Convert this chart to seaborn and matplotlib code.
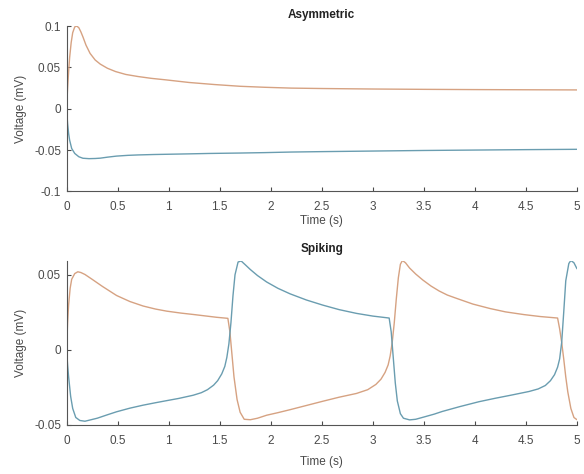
import numpy as np
import pandas as pd
import matplotlib
matplotlib.use("Agg")
import matplotlib.pyplot as plt
import seaborn as sns
from matplotlib.ticker import FuncFormatter

# ---- Data ----
asym_t_blue = [0, 0.01, 0.02, 0.03, 0.05, 0.08, 0.12, 0.16, 0.22, 0.28, 0.33, 0.4, 0.49, 0.6, 0.7, 0.85, 0.98, 1.2, 1.4, 1.7, 1.94, 2.2, 2.5, 3.0, 3.5, 4.0, 4.5, 5.0]
asym_v_blue = [0, -0.018, -0.03, -0.038, -0.048, -0.054, -0.058, -0.0598, -0.0603, -0.0601, -0.0597, -0.0585, -0.0572, -0.0563, -0.0558, -0.0553, -0.055, -0.0545, -0.054, -0.0535, -0.053, -0.0523, -0.0518, -0.0511, -0.0504, -0.0499, -0.0494, -0.049]
asym_t_orange = [0, 0.01, 0.02, 0.03, 0.045, 0.06, 0.08, 0.1, 0.12, 0.14, 0.16, 0.19, 0.23, 0.28, 0.33, 0.4, 0.48, 0.58, 0.7, 0.83, 0.97, 1.2, 1.45, 1.7, 1.94, 2.2, 2.5, 3.0, 3.5, 4.0, 4.5, 5.0]
asym_v_orange = [0, 0.025, 0.045, 0.062, 0.08, 0.092, 0.099, 0.1, 0.098, 0.093, 0.087, 0.077, 0.067, 0.059, 0.054, 0.049, 0.045, 0.0415, 0.039, 0.0368, 0.035, 0.0318, 0.0293, 0.0272, 0.026, 0.025, 0.0245, 0.0239, 0.0235, 0.0232, 0.023, 0.0228]

spk_t_blue = [0, 0.01, 0.02, 0.04, 0.06, 0.09, 0.13, 0.18, 0.24, 0.3, 0.4, 0.49, 0.62, 0.75, 0.87, 0.98, 1.1, 1.24, 1.32, 1.38, 1.44, 1.48, 1.52, 1.55, 1.57, 1.59, 1.61, 1.63, 1.65, 1.68, 1.71, 1.75, 1.8, 1.87, 1.96, 2.07, 2.19, 2.35, 2.51, 2.67, 2.84, 3.0, 3.16,
              3.18, 3.2, 3.22, 3.24, 3.27, 3.3, 3.36, 3.42, 3.5, 3.6, 3.68, 3.85, 4.04, 4.2, 4.35, 4.53, 4.62, 4.69, 4.74, 4.78, 4.81, 4.83, 4.85, 4.87, 4.89, 4.92, 4.94, 4.97, 5.0]
spk_v_blue = [0, -0.01, -0.018, -0.031, -0.039, -0.045, -0.047, -0.0475, -0.0465, -0.0455, -0.0432, -0.0412, -0.0388, -0.0368, -0.0352, -0.0338, -0.0323, -0.0302, -0.0285, -0.0265, -0.0235, -0.0205, -0.016, -0.011, -0.005, 0.004, 0.018, 0.036, 0.05, 0.0585, 0.0592, 0.0567, 0.0535, 0.0495, 0.0452, 0.041, 0.0373, 0.0332, 0.0298, 0.0268, 0.0243, 0.0225, 0.0212,
              0.012, -0.005, -0.022, -0.034, -0.0425, -0.0455, -0.0466, -0.0462, -0.0447, -0.0428, -0.041, -0.0378, -0.0345, -0.0322, -0.0302, -0.0277, -0.026, -0.0237, -0.0205, -0.0165, -0.0115, -0.006, 0.005, 0.025, 0.046, 0.0575, 0.0595, 0.058, 0.054]
spk_t_orange = [0, 0.01, 0.02, 0.035, 0.05, 0.08, 0.11, 0.14, 0.18, 0.25, 0.35, 0.49, 0.62, 0.75, 0.87, 0.98, 1.12, 1.25, 1.36, 1.47, 1.58,
                1.6, 1.62, 1.64, 1.67, 1.7, 1.74, 1.8, 1.87, 1.96, 2.07, 2.19, 2.35, 2.51, 2.67, 2.84, 2.95, 3.03, 3.08, 3.12, 3.15, 3.17, 3.19, 3.21, 3.23, 3.25, 3.27, 3.29, 3.32, 3.36, 3.42, 3.49, 3.57, 3.65, 3.73, 3.82, 3.98, 4.15, 4.3, 4.48, 4.64, 4.81,
                4.83, 4.85, 4.87, 4.89, 4.91, 4.94, 4.97, 5.0]
spk_v_orange = [0, 0.018, 0.03, 0.041, 0.047, 0.0508, 0.052, 0.0515, 0.0502, 0.047, 0.0423, 0.0362, 0.0322, 0.0292, 0.0272, 0.0258, 0.0245, 0.0235, 0.0226, 0.0217, 0.021,
                0.012, -0.003, -0.018, -0.033, -0.0415, -0.0462, -0.0465, -0.0455, -0.0435, -0.0418, -0.0398, -0.037, -0.0342, -0.0315, -0.029, -0.0265, -0.023, -0.0195, -0.015, -0.01, -0.004, 0.005, 0.018, 0.034, 0.048, 0.057, 0.0595, 0.058, 0.0545, 0.0505, 0.0465, 0.0425, 0.0392, 0.0365, 0.0343, 0.0305, 0.0275, 0.0253, 0.0235, 0.0222, 0.0212,
                0.014, 0.005, -0.006, -0.018, -0.028, -0.039, -0.045, -0.0465]

xticks = [0, 0.5, 1, 1.5, 2, 2.5, 3, 3.5, 4, 4.5, 5]
asym_yticks = [-0.1, -0.05, 0, 0.05, 0.1]
spk_yticks = [-0.05, 0, 0.05]

blue = "#6a9db0"
orange = "#d6a282"

sns.set_theme(style="ticks")
plt.rcParams["font.family"] = ["Liberation Sans", "DejaVu Sans"]
plt.rcParams["axes.unicode_minus"] = False

fig = plt.figure(figsize=(5.84, 4.74), dpi=100)
ax1 = fig.add_axes([0.114, 0.596, 0.874, 0.349])
ax2 = fig.add_axes([0.114, 0.1034, 0.874, 0.347])

def fmt(v, pos):
    return "%g" % v

def draw(ax, tb, vb, to, vo, title, yticks, ylim, xpad):
    dfb = pd.DataFrame({"t": tb, "v": vb})
    dfo = pd.DataFrame({"t": to, "v": vo})
    sns.lineplot(data=dfo, x="t", y="v", ax=ax, color=orange, lw=1.0)
    sns.lineplot(data=dfb, x="t", y="v", ax=ax, color=blue, lw=1.0)
    ax.set_xlim(0, 5)
    ax.set_ylim(*ylim)
    ax.set_xticks(xticks)
    ax.set_yticks(yticks)
    ax.xaxis.set_major_formatter(FuncFormatter(fmt))
    ax.yaxis.set_major_formatter(FuncFormatter(fmt))
    ax.tick_params(direction="in", length=3, width=0.8, labelsize=8.5, colors="#4a4a4a")
    ax.tick_params(axis="x", pad=7)
    ax.tick_params(axis="y", pad=4)
    for s in ["top", "right"]:
        ax.spines[s].set_visible(False)
    for s in ["left", "bottom"]:
        ax.spines[s].set_color("#555555")
        ax.spines[s].set_linewidth(0.8)
    ax.set_xlabel("Time (s)", fontsize=8.5, color="#4a4a4a", labelpad=xpad)
    ax.set_ylabel("Voltage (mV)", fontsize=8.5, color="#4a4a4a", labelpad=5)
    ax.set_title(title, fontsize=8.5, fontweight="bold", color="#222222", pad=6)

draw(ax1, asym_t_blue, asym_v_blue, asym_t_orange, asym_v_orange, "Asymmetric", asym_yticks, (-0.1, 0.1), 1)
draw(ax2, spk_t_blue, spk_v_blue, spk_t_orange, spk_v_orange, "Spiking", spk_yticks, (-0.05, 0.0595), 7)

fig.savefig("out.png", dpi=100)
